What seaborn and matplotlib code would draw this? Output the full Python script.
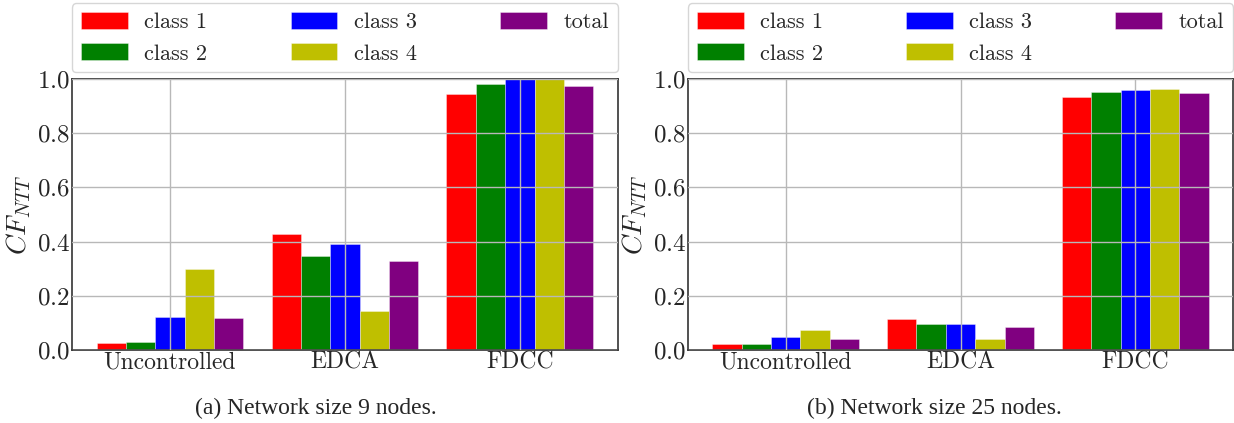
import matplotlib
matplotlib.use("Agg")
import matplotlib.pyplot as plt
import seaborn as sns
import pandas as pd
from matplotlib.patches import Patch

schemes = ["Uncontrolled", "EDCA", "FDCC"]
series = ["class 1", "class 2", "class 3", "class 4", "total"]

# panel (a): network size 9 nodes
a_class1 = [0.025, 0.428, 0.943]
a_class2 = [0.031, 0.347, 0.980]
a_class3 = [0.123, 0.391, 1.000]
a_class4 = [0.299, 0.144, 1.000]
a_total = [0.119, 0.327, 0.973]

# panel (b): network size 25 nodes
b_class1 = [0.023, 0.113, 0.934]
b_class2 = [0.023, 0.095, 0.953]
b_class3 = [0.048, 0.096, 0.959]
b_class4 = [0.074, 0.040, 0.963]
b_total = [0.041, 0.085, 0.948]

yticks = [0.0, 0.2, 0.4, 0.6, 0.8, 1.0]
captions = ["(a) Network size 9 nodes.", "(b) Network size 25 nodes."]
colors = ["#ff0000", "#008000", "#0000ff", "#bfbf00", "#800080"]

sns.set_style("whitegrid")
plt.rcParams["font.family"] = ["cmr10"]
plt.rcParams["axes.formatter.use_mathtext"] = True
plt.rcParams["mathtext.fontset"] = "cm"


def long_df(vals):
    rows = []
    for s, v in zip(series, vals):
        for sc, x in zip(schemes, v):
            rows.append({"scheme": sc, "series": s, "value": x})
    return pd.DataFrame(rows)


panels = [
    long_df([a_class1, a_class2, a_class3, a_class4, a_total]),
    long_df([b_class1, b_class2, b_class3, b_class4, b_total]),
]

fig = plt.figure(figsize=(12.34, 4.23), dpi=100)
W, H = 1234, 423
axes_px = [(72, 546), (688, 545)]
cap_x = [316, 934]

for i, df in enumerate(panels):
    x0, w = axes_px[i]
    ax = fig.add_axes([x0 / W, (H - 350) / H, w / W, 271 / H])
    sns.barplot(data=df, x="scheme", y="value", hue="series", hue_order=series,
                order=schemes, palette=colors, saturation=1, width=0.84,
                linewidth=0.5, edgecolor="#ffffff80", ax=ax, legend=False)
    ax.set_axisbelow(False)
    ax.grid(True, color="#b8b8b8", linewidth=1.0)
    ax.set_xlim(-0.56, 2.56)
    ax.set_ylim(0, 1.0)
    ax.set_yticks(yticks)
    ax.set_xlabel("")
    ax.set_ylabel(r"$CF_{NTT}$", fontsize=20, labelpad=3)
    ax.tick_params(axis="y", labelsize=18, pad=1.5, length=0)
    ax.tick_params(axis="x", labelsize=17, pad=1, length=0)
    for sp in ax.spines.values():
        sp.set_visible(True)
        sp.set_color("#333333")
        sp.set_linewidth(1.2)
    handles = [Patch(facecolor=c, edgecolor="#ffffff80", linewidth=0.5, label=s)
               for c, s in zip(colors, series)]
    ax.legend(handles=handles, ncol=3, mode="expand", loc="lower left",
              bbox_to_anchor=(0, 1.024, 1, 0.2), bbox_transform=ax.transAxes,
              borderaxespad=0, fontsize=16, handlelength=2.1, handleheight=0.8,
              handletextpad=0.75, labelspacing=0.5, frameon=True,
              fancybox=True, framealpha=0.8, edgecolor="#cccccc")
    fig.text(cap_x[i] / W, 1 - 408 / H, captions[i], ha="center", va="center",
             fontsize=17, family="Liberation Serif")

fig.savefig("out.png", dpi=100)
